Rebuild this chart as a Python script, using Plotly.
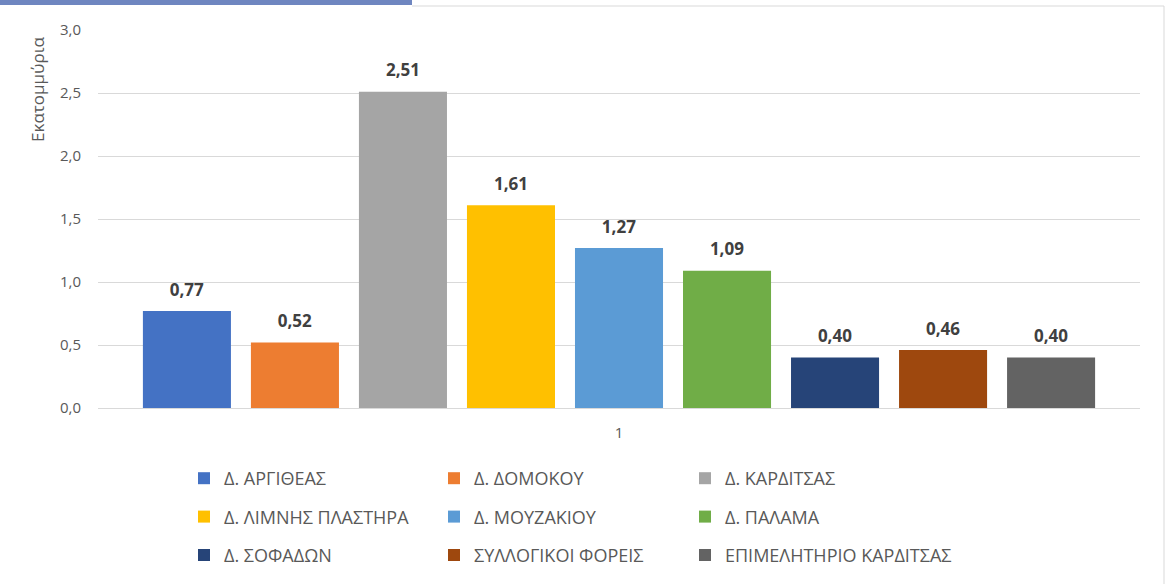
import plotly.graph_objects as go

category = ["1"]
series_names = [
    "Δ. ΑΡΓΙΘΕΑΣ", "Δ. ΔΟΜΟΚΟΥ", "Δ. ΚΑΡΔΙΤΣΑΣ",
    "Δ. ΛΙΜΝΗΣ ΠΛΑΣΤΗΡΑ", "Δ. ΜΟΥΖΑΚΙΟΥ", "Δ. ΠΑΛΑΜΑ",
    "Δ. ΣΟΦΑΔΩΝ", "ΣΥΛΛΟΓΙΚΟΙ ΦΟΡΕΙΣ", "ΕΠΙΜΕΛΗΤΗΡΙΟ ΚΑΡΔΙΤΣΑΣ",
]
values = [0.77, 0.52, 2.51, 1.61, 1.27, 1.09, 0.40, 0.46, 0.40]
colors = ["#4472C4", "#ED7D31", "#A5A5A5", "#FFC000", "#5B9BD5",
          "#70AD47", "#264478", "#9E480E", "#636363"]
y_title = "Εκατομμύρια"

FONT = "Open Sans, Noto Sans, sans-serif"
W, H = 1165, 584
L, R, T, B = 98, 25, 30, 176

fig = go.Figure()
legend_ids = ["legend", "legend2", "legend3"]
for i, (name, v, c) in enumerate(zip(series_names, values, colors)):
    fig.add_trace(go.Bar(
        x=category, y=[v], name=name,
        marker=dict(color=c, line=dict(width=0)),
        texttemplate="<span style='font-size:17px'>%{y:.2f}</span><br> ",
        textposition="outside",
        textfont=dict(family=FONT, size=8, color="#404040", weight="bold"),
        cliponaxis=False,
        legend=legend_ids[i % 3],
        legendgroup=f"g{i}",
    ))

plot_w = W - L - R
plot_h = H - T - B
col_px = [184, 434, 685]
top_px = 460
leg_common = dict(orientation="v", xanchor="left", yanchor="top",
                  y=-(top_px - (H - B)) / plot_h, tracegroupgap=12,
                  font=dict(family=FONT, size=18, color="#595959"),
                  bgcolor="rgba(0,0,0,0)", itemclick=False)

fig.update_layout(
    width=W, height=H,
    margin=dict(l=L, r=R, t=T, b=B, autoexpand=False),
    paper_bgcolor="white", plot_bgcolor="white",
    separators=",.",
    barmode="group", bargap=0.067, bargroupgap=0.185,
    showlegend=True,
    legend=dict(**leg_common, x=(col_px[0] - L) / plot_w),
    legend2=dict(**leg_common, x=(col_px[1] - L) / plot_w),
    legend3=dict(**leg_common, x=(col_px[2] - L) / plot_w),
    xaxis=dict(type="category", showgrid=False, showline=False, ticks="",
               tickfont=dict(family=FONT, size=15, color="#595959"),
               ticklabelstandoff=14),
    yaxis=dict(range=[0, 3], dtick=0.5, tickformat=".1f",
               showgrid=True, gridcolor="#D9D9D9", gridwidth=1,
               zeroline=True, zerolinecolor="#D9D9D9", zerolinewidth=1,
               showline=False, ticks="",
               tickfont=dict(family=FONT, size=15, color="#595959"),
               ticklabelstandoff=16),
    annotations=[dict(
        text=y_title, textangle=-90, xref="paper", yref="paper",
        x=-(L - 37) / plot_w, y=1 - (90 - T) / plot_h,
        xanchor="center", yanchor="middle", showarrow=False,
        font=dict(family=FONT, size=17, color="#595959"),
    )],
    shapes=[
        dict(type="rect", xref="paper", yref="paper",
             x0=-L / plot_w, x1=(412 - L) / plot_w,
             y0=1 + (T - 0) / plot_h, y1=1 + (T - 5) / plot_h,
             fillcolor="#6F86C0", line=dict(width=0), layer="above"),
        dict(type="line", xref="paper", yref="paper",
             x0=(412 - L) / plot_w, x1=(1164 - L) / plot_w,
             y0=1 + (T - 6) / plot_h, y1=1 + (T - 6) / plot_h,
             line=dict(color="#D9D9D9", width=1)),
        dict(type="line", xref="paper", yref="paper",
             x0=(1164 - L) / plot_w, x1=(1164 - L) / plot_w,
             y0=1 + (T - 6) / plot_h, y1=-(H - T - plot_h) / plot_h,
             line=dict(color="#D9D9D9", width=1)),
    ],
)

fig.write_html("out.html", config={"displayModeBar": False},
               post_script="document.body.style.margin='0';")
